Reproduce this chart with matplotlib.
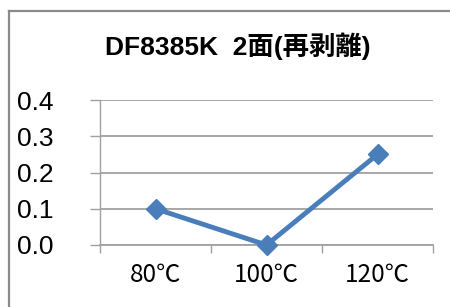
import matplotlib
matplotlib.use("Agg")
import matplotlib.pyplot as plt
from matplotlib.lines import Line2D

categories = ["80℃", "100℃", "120℃"]
values = [0.10, 0.00, 0.25]
yticks = [0.0, 0.1, 0.2, 0.3, 0.4]
title = "DF8385K  2面(再剥離)"

W, H = 450, 307
fig = plt.figure(figsize=(W / 100, H / 100), dpi=100)
fig.patch.set_facecolor("white")

# outer chart border (cropped Excel chart frame)
bc = "#8a8a8a"
fig.add_artist(Line2D([9 / W, 1.0], [1 - 11 / H, 1 - 11 / H], color=bc, lw=1.6, transform=fig.transFigure))
fig.add_artist(Line2D([9 / W, 9 / W], [0, 1 - 11 / H], color=bc, lw=1.6, transform=fig.transFigure))

left, right, top, bottom = 100, 433, 100, 245
ax = fig.add_axes([left / W, 1 - bottom / H, (right - left) / W, (bottom - top) / H])

x = list(range(len(categories)))
ax.plot(x, values, color="#4A7EBB", lw=3.5, marker="D", markersize=10,
        markeredgecolor="#4A7EBB", markerfacecolor="#4A7EBB", zorder=5, clip_on=False)

ax.set_xlim(-0.5, len(categories) - 0.5)
ax.set_ylim(0, 0.4)
ax.set_yticks(yticks)
ax.set_yticklabels([f"{v:.1f}" for v in yticks], fontsize=19,
                   family=["Liberation Sans", "DejaVu Sans"])
ax.yaxis.grid(True, color="#a0a0a0", lw=1.3)
ax.set_axisbelow(True)

ax.set_xticks(x)
ax.set_xticklabels(categories, fontsize=17.5, family=["Noto Sans CJK JP", "DejaVu Sans"])
ax.set_xticks([i - 0.5 for i in range(len(categories) + 1)], minor=True)

ax.tick_params(axis="y", which="major", length=7.2, width=1.0, color="#a0a0a0", pad=26)
ax.tick_params(axis="x", which="major", length=0, pad=12)
ax.tick_params(axis="x", which="minor", length=5.8, width=1.0, color="#a0a0a0")

for s in ["top", "right"]:
    ax.spines[s].set_visible(False)
ax.spines["left"].set_color("#a0a0a0")
ax.spines["left"].set_linewidth(1.0)
ax.spines["bottom"].set_color("#a0a0a0")
ax.spines["bottom"].set_linewidth(1.3)

fig.text(238 / W, 1 - 46 / H, title, ha="center", va="center", fontsize=19,
         fontweight="bold", family=["Liberation Sans", "Noto Sans CJK JP"])

fig.savefig("out.png", dpi=100)
